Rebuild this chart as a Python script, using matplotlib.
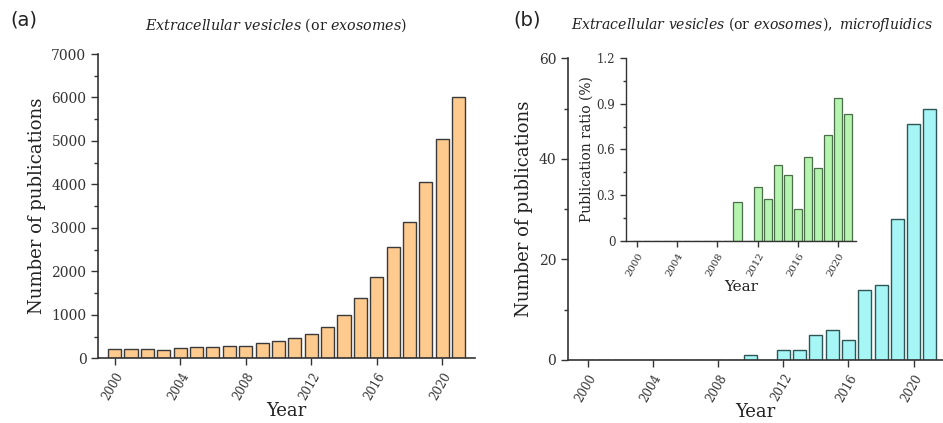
import matplotlib
matplotlib.use("Agg")
import matplotlib.pyplot as plt
from matplotlib.ticker import MultipleLocator

plt.rcParams['font.family'] = ['DejaVu Serif']
plt.rcParams['mathtext.fontset'] = 'custom'
plt.rcParams['mathtext.rm'] = 'DejaVu Serif'
plt.rcParams['mathtext.it'] = 'DejaVu Serif:italic'

years = list(range(2000, 2022))
pubs_ev = [205, 205, 215, 195, 230, 265, 255, 285, 285, 345, 405, 470, 565, 730,
           1000, 1390, 1860, 2550, 3140, 4050, 5040, 6020]
pubs_mf = [0, 0, 0, 0, 0, 0, 0, 0, 0, 0, 1, 0, 2, 2, 5, 6, 4, 14, 15, 28, 47, 50]
ratio_pct = [0, 0, 0, 0, 0, 0, 0, 0, 0, 0, 0.255, 0, 0.357, 0.276, 0.50, 0.433,
             0.213, 0.551, 0.481, 0.695, 0.939, 0.834]
xticks = [2000, 2004, 2008, 2012, 2016, 2020]

fig = plt.figure(figsize=(9.43, 4.23), dpi=100)

def style(ax, lw=1.2, tsize=10, xsize=8.5):
    for s in ['top', 'right']:
        ax.spines[s].set_visible(False)
    for s in ['left', 'bottom']:
        ax.spines[s].set_color('#333333')
        ax.spines[s].set_linewidth(lw)
    ax.tick_params(axis='both', which='major', direction='out', length=5,
                   width=1, colors='#333333', labelsize=tsize)
    ax.tick_params(axis='both', which='minor', direction='out', length=3,
                   width=1, colors='#333333')
    ax.tick_params(axis='x', which='minor', bottom=False)
    ax.set_xticks(xticks)
    ax.set_xticklabels([str(t) for t in xticks], rotation=60, ha='right',
                       rotation_mode='anchor', fontsize=xsize)

# Panel (a)
axa = fig.add_axes([0.1042, 0.153, 0.3995, 0.7193])
axa.bar(years, pubs_ev, width=0.8, color='#FFCA8E', edgecolor='#3a3a3a',
        linewidth=1.0)
axa.set_xlim(1999.0, 2022.0)
axa.set_ylim(0, 7000)
axa.yaxis.set_major_locator(MultipleLocator(1000))
axa.yaxis.set_minor_locator(MultipleLocator(500))
style(axa)
axa.set_ylabel('Number of publications', fontsize=13, color='#222222')
axa.set_xlabel('Year', fontsize=13, color='#222222', va='center')
axa.xaxis.set_label_coords(0.5, -(411 - 358.3) / 304.3)

# Panel (b)
axb = fig.add_axes([0.6023, 0.149, 0.3977, 0.713])
axb.bar(years, pubs_mf, width=0.8, color='#A6F6F6', edgecolor='#2f5656',
        linewidth=1.0)
axb.set_xlim(1998.8, 2021.8)
axb.set_ylim(0, 60)
axb.yaxis.set_major_locator(MultipleLocator(20))
axb.yaxis.set_minor_locator(MultipleLocator(10))
style(axb)
axb.set_ylabel('Number of publications', fontsize=13, color='#222222')
axb.set_xlabel('Year', fontsize=13, color='#222222', va='center')
axb.xaxis.set_label_coords(0.5, -(412 - 360) / 301.6)

# Inset
axi = fig.add_axes([0.6635, 0.4296, 0.2442, 0.434])
axi.patch.set_alpha(0)
axi.bar(years, ratio_pct, width=0.8, color='#B4F4AE', edgecolor='#4a6e4a',
        linewidth=0.9)
axi.set_xlim(1998.9, 2021.76)
axi.set_ylim(0, 1.2)
axi.set_yticks([0, 0.3, 0.6, 0.9, 1.2])
axi.set_yticklabels(['0', '0.3', '0.6', '0.9', '1.2'])
axi.yaxis.set_minor_locator(MultipleLocator(0.15))
style(axi, lw=1.0, tsize=8.5, xsize=7.3)
axi.tick_params(axis='both', which='major', length=4)
axi.tick_params(axis='both', which='minor', length=2)
axi.set_ylabel('Publication ratio (%)', fontsize=10, color='#222222', labelpad=2)
axi.set_xlabel('Year', fontsize=11, color='#222222', va='center')
axi.xaxis.set_label_coords(0.5, -(287 - 241.3) / 183.6)

# Titles and panel labels
fig.text(10 / 943, 1 - 20 / 423, '(a)', fontsize=14, family='DejaVu Sans',
         ha='left', va='center', color='#222222')
fig.text(513 / 943, 1 - 20 / 423, '(b)', fontsize=14, family='DejaVu Sans',
         ha='left', va='center', color='#222222')
fig.text(276 / 943, 1 - 25 / 423,
         r'$\mathit{Extracellular\ vesicles}\ \mathrm{(or}\ \mathit{exosomes}\mathrm{)}$',
         fontsize=10.3, ha='center', va='center', color='#222222')
fig.text(752 / 943, 1 - 25 / 423,
         r'$\mathit{Extracellular\ vesicles}\ \mathrm{(or}\ \mathit{exosomes}\mathrm{),}\ \mathit{microfluidics}$',
         fontsize=10.1, ha='center', va='center', color='#222222')

fig.savefig('out.png', dpi=100)
